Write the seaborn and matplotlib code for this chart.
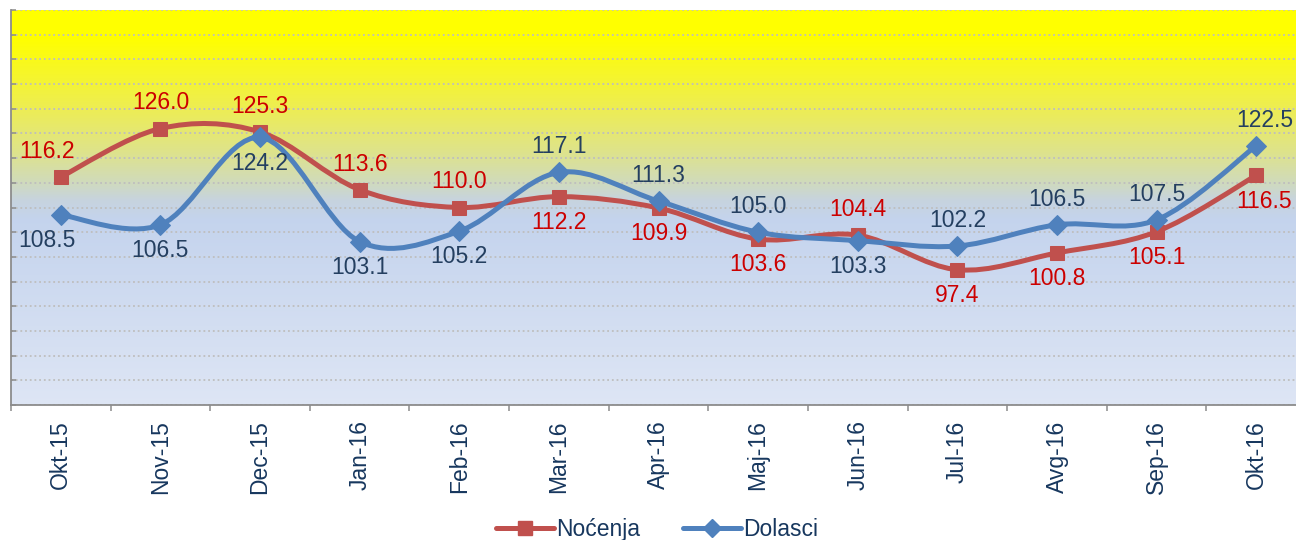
import numpy as np
import pandas as pd
import matplotlib
matplotlib.use("Agg")
import matplotlib.pyplot as plt
from matplotlib.path import Path
from matplotlib.patches import PathPatch
from matplotlib.lines import Line2D
from matplotlib.colors import LinearSegmentedColormap
import seaborn as sns

# ==================== podaci ====================
mjeseci = ['Okt-15', 'Nov-15', 'Dec-15', 'Jan-16', 'Feb-16', 'Mar-16', 'Apr-16',
           'Maj-16', 'Jun-16', 'Jul-16', 'Avg-16', 'Sep-16', 'Okt-16']
nocenja = [116.2, 126.0, 125.3, 113.6, 110.0, 112.2, 109.9, 103.6, 104.4, 97.4, 100.8, 105.1, 116.5]
dolasci = [108.5, 106.5, 124.2, 103.1, 105.2, 117.1, 111.3, 105.0, 103.3, 102.2, 106.5, 107.5, 122.5]

# gdje ide oznaka vrijednosti: +1 iznad, -1 ispod
pol_nocenja = [1, 1, 1, 1, 1, -1, -1, -1, 1, -1, -1, -1, -1]
pol_dolasci = [-1, -1, -1, -1, -1, 1, 1, 1, -1, 1, 1, 1, 1]

y_min, y_max, y_korak = 70, 150, 5

# ==================== stil ====================
sns.set_style("white")
plt.rcParams['font.family'] = ['Liberation Sans', 'DejaVu Sans']

CRVENA = '#C0504D'
PLAVA = '#4F81BD'
CRVENI_TEKST = '#CC0000'
PLAVI_TEKST = '#243F60'
NAVY = '#17375E'
SIVA = '#8C8C8C'
FS = 16.5


def glatka_putanja(xs, ys):
    """Excel-ov 'smoothed line' - Bezier kroz tocke podataka."""
    pts = np.column_stack([xs, ys]).astype(float)
    n = len(pts)
    verts = [pts[0]]
    codes = [Path.MOVETO]
    for i in range(n - 1):
        p0 = pts[max(i - 1, 0)]
        p1 = pts[i]
        p2 = pts[i + 1]
        p3 = pts[min(i + 2, n - 1)]
        verts += [p1 + (p2 - p0) / 6, p2 - (p3 - p1) / 6, p2]
        codes += [Path.CURVE4] * 3
    return Path(verts, codes)


fig = plt.figure(figsize=(12.96, 5.4), dpi=100)
ax = fig.add_axes([11 / 1296, 135 / 540, 1295 / 1296, 395 / 540])

x = np.arange(len(mjeseci))

# pozadina s gradijentom (zuto gore -> plavo dolje)
grad = LinearSegmentedColormap.from_list('pozadina', [
    (0.00, (1.00, 1.00, 0.00)),
    (0.07, (1.00, 1.00, 0.00)),
    (0.25, (0.93, 0.93, 0.33)),
    (0.36, (0.87, 0.89, 0.55)),
    (0.43, (0.82, 0.86, 0.72)),
    (0.48, (0.78, 0.83, 0.87)),
    (0.53, (0.77, 0.83, 0.93)),
    (1.00, (0.87, 0.90, 0.96)),
])
ax.imshow(np.linspace(0, 1, 256).reshape(-1, 1), cmap=grad, aspect='auto',
          extent=[-0.5, len(mjeseci) - 0.5, y_min, y_max], zorder=0, origin='upper')
ax.set_xlim(-0.5, len(mjeseci) - 0.5)
ax.set_ylim(y_min, y_max)

# mreza
ax.set_yticks(np.arange(y_min, y_max + 1, y_korak))
ax.yaxis.grid(True, color='#BEBEBE', linestyle=(0, (1, 1.6)), linewidth=1.3, zorder=1)
ax.xaxis.grid(False)
ax.set_axisbelow(True)

# linije i markeri
serije = [('Noćenja', nocenja, CRVENA, 's', 9.5, pol_nocenja, CRVENI_TEKST, 3),
          ('Dolasci', dolasci, PLAVA, 'D', 10, pol_dolasci, PLAVI_TEKST, 5)]

for naziv, vrijednosti, boja, marker, ms, pol, boja_teksta, z in serije:
    ax.add_patch(PathPatch(glatka_putanja(x, vrijednosti), facecolor='none', edgecolor=boja,
                           linewidth=3.6, capstyle='round', joinstyle='round', zorder=z))
    df = pd.DataFrame({'x': x, 'y': vrijednosti})
    sns.lineplot(data=df, x='x', y='y', ax=ax, color=boja, marker=marker, markersize=ms,
                 markeredgecolor=boja, linewidth=0, legend=False, zorder=z + 1)
    for i, (xi, yi) in enumerate(zip(x, vrijednosti)):
        dx = -10 if i == 0 else (6 if i == len(x) - 1 else 0)
        ax.annotate(f'{yi:.1f}', (xi, yi), xytext=(dx, 18.5 * pol[i]), textcoords='offset points',
                    ha='center', va='center', fontsize=FS, color=boja_teksta, zorder=7)

ax.set_xlabel('')
ax.set_ylabel('')

# os x: oznake mjeseci, crtice na granicama kategorija
ax.xaxis.set_ticks_position('bottom')
ax.yaxis.set_ticks_position('left')
ax.set_xticks(x)
ax.set_xticklabels(mjeseci, rotation=90, fontsize=FS, color=NAVY)
ax.set_xticks(np.arange(-0.5, len(mjeseci)), minor=True)
ax.set_yticklabels([])
ax.tick_params(axis='x', which='major', length=0, pad=11)
ax.tick_params(axis='x', which='minor', length=4.5, width=1.1, color=SIVA, direction='out')
ax.tick_params(axis='y', which='major', length=3.5, width=1.1, color=SIVA, direction='in',
               labelleft=False)

for s in ['top', 'right']:
    ax.spines[s].set_visible(False)
for s in ['left', 'bottom']:
    ax.spines[s].set_color(SIVA)
    ax.spines[s].set_linewidth(1.3)

# legenda
rucke = [Line2D([], [], color=CRVENA, lw=3.6, marker='s', markersize=9.5, solid_capstyle='round'),
         Line2D([], [], color=PLAVA, lw=3.6, marker='D', markersize=9, solid_capstyle='round')]
leg = fig.legend(rucke, ['Noćenja', 'Dolasci'], loc='center', bbox_to_anchor=(0.507, 0.02),
                 ncol=2, frameon=False, fontsize=FS, handlelength=2.5, handletextpad=0.1,
                 columnspacing=1.9)
for t in leg.get_texts():
    t.set_color(NAVY)

fig.savefig('out.png', dpi=100)
